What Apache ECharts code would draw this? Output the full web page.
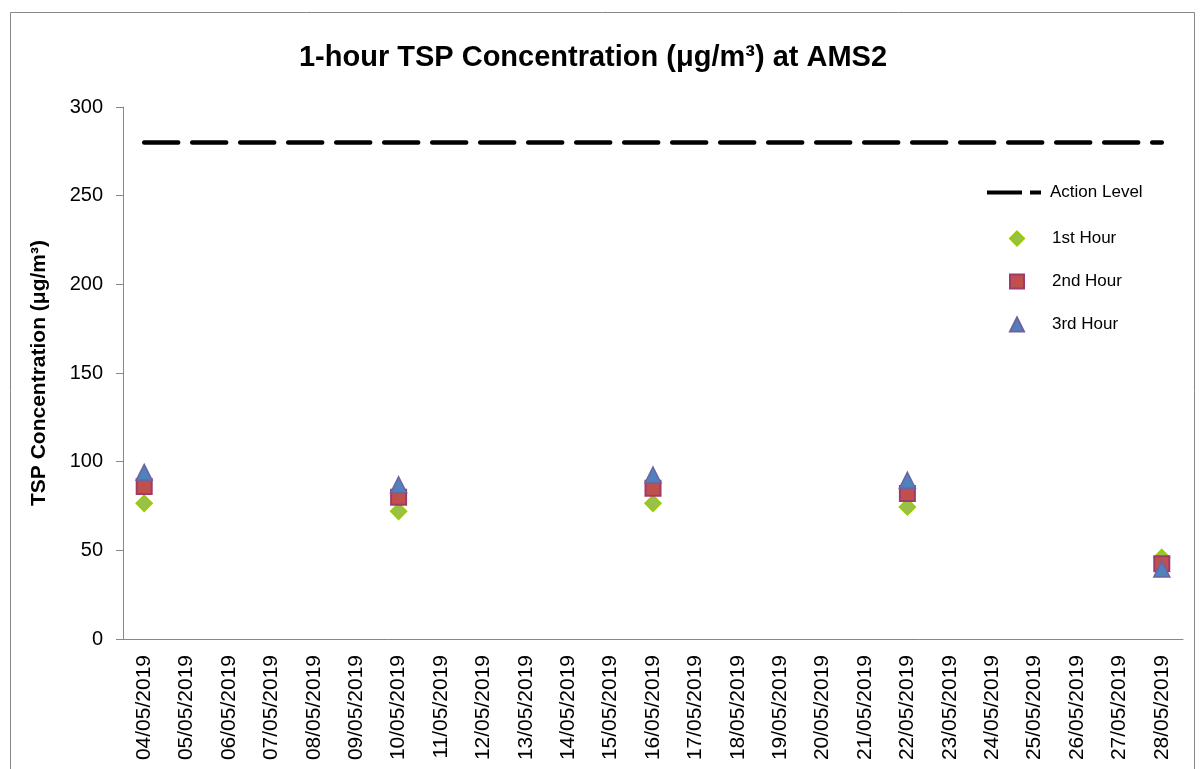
<!DOCTYPE html>
<html>
<head>
<meta charset="utf-8">
<script src="https://cdn.jsdelivr.net/npm/echarts@6/dist/echarts.min.js"></script>
<style>html,body{margin:0;padding:0;background:#fff;}#c{width:1200px;height:769px;}</style>
</head>
<body>
<div id="c"></div>
<script>
const categories = ['04/05/2019','05/05/2019','06/05/2019','07/05/2019','08/05/2019','09/05/2019','10/05/2019','11/05/2019','12/05/2019','13/05/2019','14/05/2019','15/05/2019','16/05/2019','17/05/2019','18/05/2019','19/05/2019','20/05/2019','21/05/2019','22/05/2019','23/05/2019','24/05/2019','25/05/2019','26/05/2019','27/05/2019','28/05/2019'];
const actionLevel = 280;
const hour1 = [76.5,null,null,null,null,null,72,null,null,null,null,null,76.5,null,null,null,null,null,74.5,null,null,null,null,null,46];
const hour2 = [86,null,null,null,null,null,80,null,null,null,null,null,85,null,null,null,null,null,82,null,null,null,null,null,42.5];
const hour3 = [94,null,null,null,null,null,87,null,null,null,null,null,92.5,null,null,null,null,null,89.5,null,null,null,null,null,39.5];
const yTicks = [0,50,100,150,200,250,300];

const font = 'Liberation Sans';
const chart = echarts.init(document.getElementById('c'));
chart.setOption({
  backgroundColor: '#fff',
  animation: false,
  textStyle: {fontFamily: font},
  graphic: [{type:'rect', shape:{x:10.5,y:12.5,width:1184,height:800}, style:{fill:'none', stroke:'#888', lineWidth:1}, silent:true}],
  title: {
    text: '1-hour TSP Concentration (μg/m³) at AMS2',
    left: 588, top: 38, textAlign: 'center',
    textStyle: {fontFamily: font, fontSize: 29, fontWeight: 'bold', color: '#000'}
  },
  legend: [{
    orient: 'vertical', left: 982, top: 179,
    itemWidth: 54, itemHeight: 18,
    textStyle: {fontFamily: font, fontSize: 17, color: '#000', padding: [0,0,0,4]},
    data: [{name: 'Action Level', icon: 'path://M0,7L35,7L35,11L0,11Z M43,7L54,7L54,11L43,11Z', itemStyle: {color: '#000'}}]
  }, {
    orient: 'vertical', left: 1004, top: 225,
    itemWidth: 14, itemHeight: 14, itemGap: 26,
    textStyle: {fontFamily: font, fontSize: 17, color: '#000', padding: [0,0,0,23]},
    data: ['1st Hour','2nd Hour','3rd Hour']
  }],
  grid: {left: 123, right: 17, top: 107, bottom: 130, containLabel: false},
  xAxis: {
    type: 'category', data: categories, boundaryGap: true,
    axisLine: {lineStyle: {color: '#888', width: 1}},
    axisTick: {show: false},
    axisLabel: {rotate: 90, interval: 0, fontSize: 21, color: '#000', margin: 16, fontFamily: font},
    splitLine: {show: false}
  },
  yAxis: {
    type: 'value', min: yTicks[0], max: yTicks[yTicks.length-1], interval: 50,
    name: 'TSP Concentration (μg/m³)', nameLocation: 'middle', nameGap: 73, nameRotate: 90,
    nameTextStyle: {fontFamily: font, fontSize: 21, fontWeight: 'bold', color: '#000'},
    axisLine: {show: true, lineStyle: {color: '#888', width: 1}},
    axisTick: {show: true, inside: false, length: 7, lineStyle: {color: '#888'}},
    axisLabel: {fontSize: 20, color: '#000', margin: 20, fontFamily: font},
    splitLine: {show: false}
  },
  series: [
    {name: 'Action Level', type: 'line', data: categories.map(() => actionLevel), symbol: 'none',
     lineStyle: {color: '#000', width: 4.5, type: [34, 14], cap: 'round'}, itemStyle: {color: '#000'}, z: 1},
    {name: '1st Hour', type: 'scatter', data: hour1, symbol: 'diamond', symbolSize: 16,
     itemStyle: {color: '#99C04A', borderColor: '#99CC00', borderWidth: 1.5, opacity: 1}, z: 2},
    {name: '2nd Hour', type: 'scatter', data: hour2, symbol: 'rect', symbolSize: 15,
     itemStyle: {color: '#C0504D', borderColor: '#9E3B6B', borderWidth: 2, opacity: 1}, z: 3},
    {name: '3rd Hour', type: 'scatter', data: hour3, symbol: 'triangle', symbolSize: 16,
     itemStyle: {color: '#4F81BD', borderColor: '#6F62A0', borderWidth: 1.5, opacity: 1}, z: 4}
  ]
});
</script>
</body>
</html>
